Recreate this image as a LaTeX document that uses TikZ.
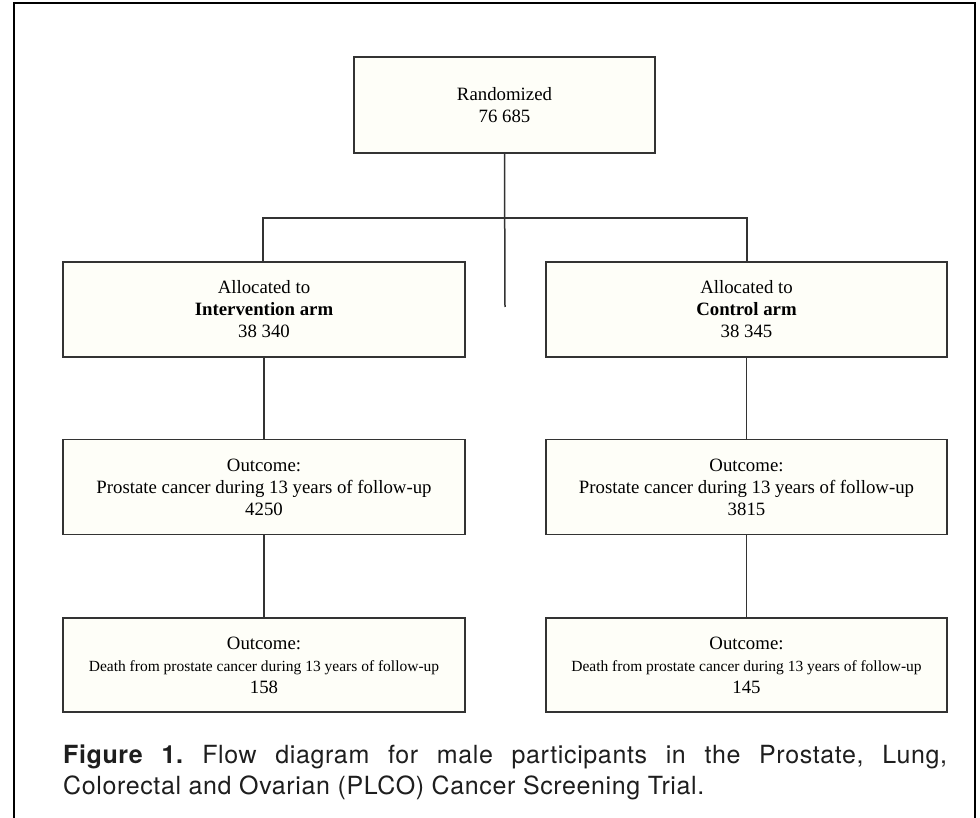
\documentclass[tikz,border=0pt]{standalone}
\usepackage{fontspec}
\setmainfont{Liberation Serif}
\newfontfamily\capfont[LetterSpace=2.5]{TeX Gyre Heros}
\definecolor{boxfill}{HTML}{FEFEF8}
\definecolor{boxline}{HTML}{333333}
\definecolor{captext}{HTML}{1E1E1E}
\begin{document}
\begin{tikzpicture}[x=1pt,y=-1pt,
  flowbox/.style={draw=boxline, line width=1.5pt, fill=boxfill, align=center,
    inner sep=0pt, font=\fontsize{18.8}{22}\selectfont},
  link/.style={draw=boxline, line width=1.5pt}]
\useasboundingbox (0,0) rectangle (980,818);
\fill[white] (0,0) rectangle (980,818);
% outer frame
\draw[line width=2pt, black] (14,830) -- (14,3) -- (975,3) -- (975,830);

\node[flowbox, minimum width=301pt, minimum height=96pt] (rand) at (504.5,105) {Randomized\\76 685};
\node[flowbox, minimum width=402pt, minimum height=95pt] (inter) at (264,309.5) {Allocated to\\\textbf{Intervention arm}\\38 340};
\node[flowbox, minimum width=401pt, minimum height=95pt] (ctrl) at (746.5,309.5) {Allocated to\\\textbf{Control arm}\\38 345};
\node[flowbox, minimum width=402pt, minimum height=95pt] (outi) at (264,487) {Outcome:\\Prostate cancer during 13 years of follow-up\\4250};
\node[flowbox, minimum width=401pt, minimum height=95pt] (outc) at (746.5,487) {Outcome:\\Prostate cancer during 13 years of follow-up\\3815};
\node[flowbox, minimum width=402pt, minimum height=94pt] (deathi) at (264,665) {Outcome:\\{\fontsize{15.5}{19}\selectfont Death from prostate cancer during 13 years of follow-up}\\158};
\node[flowbox, minimum width=401pt, minimum height=94pt] (deathc) at (746.5,665) {Outcome:\\{\fontsize{15.5}{19}\selectfont Death from prostate cancer during 13 years of follow-up}\\145};

\coordinate (stemend) at (505,307);
\coordinate (branchL) at (263,218);
\coordinate (branchR) at (747,218);
\draw[link] (rand.south) -- (stemend);
\draw[link] (inter.north -| branchL) -- (branchL) -- (branchR) -- (ctrl.north -| branchR);
\draw[link] (inter.south) -- (outi.north);
\draw[link] (ctrl.south) -- (outc.north);
\draw[link] (outi.south) -- (deathi.north);
\draw[link] (outc.south) -- (deathc.north);

\node[anchor=north west, inner sep=0pt, text width=884pt, align=justify, text=captext,
  font=\capfont\fontsize{25}{31}\selectfont\frenchspacing] (caption) at (63,745)
  {\textbf{Figure 1.} Flow diagram for male participants in the Prostate, Lung,\linebreak Colorectal and Ovarian (PLCO) Cancer Screening Trial.};
\end{tikzpicture}
\end{document}
